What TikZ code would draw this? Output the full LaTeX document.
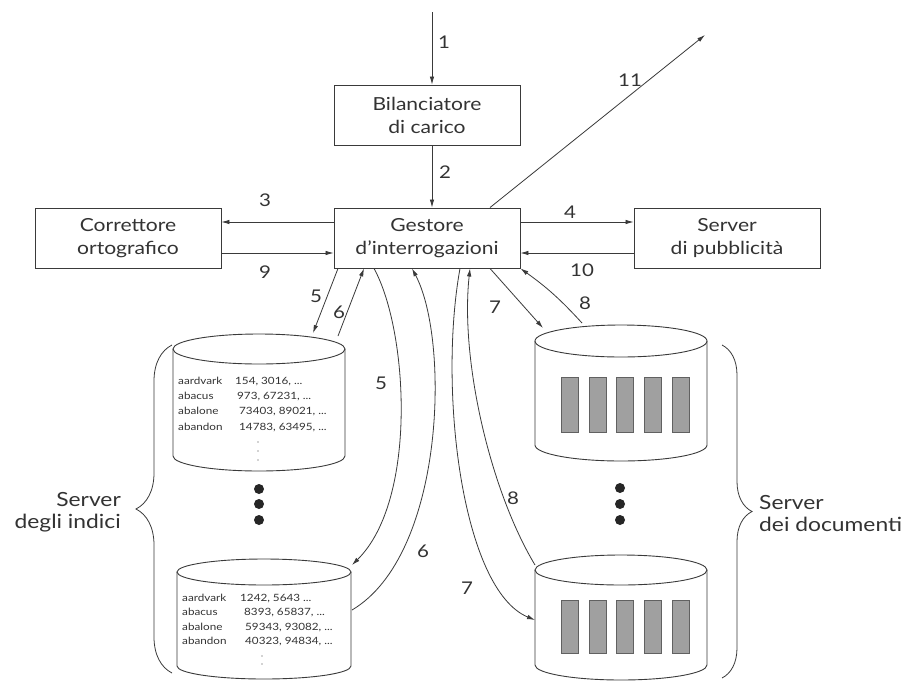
\documentclass[tikz,border=0pt]{standalone}
\usepackage{fontspec}
\setmainfont{Lato}[FakeStretch=1.17]
\usetikzlibrary{arrows.meta,decorations.pathreplacing}
\definecolor{ink}{HTML}{3A3A3A}
\definecolor{txt}{HTML}{333333}
\definecolor{doc}{HTML}{A0A0A0}
\newcommand{\cylpath}[5]{% cx, rx, ty, by, ry
  \fill[white] (#1-#2,#3) -- (#1-#2,#4) arc[start angle=180,end angle=0,x radius=#2,y radius=#5] -- (#1+#2,#3) arc[start angle=0,end angle=180,x radius=#2,y radius=#5] -- cycle;
  \draw[ink,line width=0.9pt] (#1-#2,#3) -- (#1-#2,#4) arc[start angle=180,end angle=0,x radius=#2,y radius=#5] -- (#1+#2,#3);
  \draw[ink,line width=0.9pt] (#1,#3) ellipse[x radius=#2,y radius=#5];
}
\tikzset{
  box/.style={draw=ink,line width=0.9pt,minimum width=186pt,minimum height=60pt,align=center,
    font=\fontsize{18}{23}\selectfont,text=txt,inner sep=0pt},
  arr/.style={draw=ink,line width=0.8pt,-{Latex[length=8pt,width=4.5pt]}},
  lbl/.style={font=\fontsize{17.5}{20}\selectfont,text=txt,inner sep=0pt},
  idx/.style={font=\fontsize{10}{12}\selectfont,text=txt,inner sep=0pt,anchor=base west},
  docbar/.style={fill=doc,draw=ink!80,line width=0.6pt},
  bigdot/.style={fill=black!85,draw=none},
  brc/.style={draw=ink,line width=0.8pt,decorate},
}
\begin{document}
\begin{tikzpicture}[x=1pt,y=-1pt]
\fill[white] (0,0) rectangle (903,681);
\useasboundingbox (0,0) rectangle (903,681);

% boxes
\node[box] (bil) at (427,115) {Bilanciatore\\di carico};
\node[box] (gest) at (427,238) {Gestore\\d’interrogazioni};
\node[box] (corr) at (128,238) {Correttore\\ortografico};
\node[box] (pub) at (727,238) {Server\\di pubblicità};

% top arrows
\coordinate (in) at (432,12);
\coordinate (out) at (705,35);
\draw[arr] (in) -- (in |- bil.north);
\draw[arr] (bil.south -| in) -- (gest.north -| in);
\draw[arr] ([xshift=63pt]gest.north) -- (out);
\node[lbl] (l1) at (444,42) {1};
\node[lbl] (l2) at (445,172) {2};
\node[lbl] (l11) at (630,80) {11};

% side arrows
\draw[arr] ([yshift=16pt]gest.west) -- ([yshift=16pt]corr.east);
\draw[arr] ([yshift=-15pt]corr.east) -- ([yshift=-15pt]gest.west);
\draw[arr] ([yshift=16pt]gest.east) -- ([yshift=16pt]pub.west);
\draw[arr] ([yshift=-15pt]pub.west) -- ([yshift=-15pt]gest.east);
\node[lbl] (l3) at (265,200) {3};
\node[lbl] (l9) at (265,272) {9};
\node[lbl] (l4) at (570,212) {4};
\node[lbl] (l10) at (582,270) {10};

% index cylinders
\cylpath{259}{86}{349}{456}{15}
\node[idx] (a1) at (178,384) {aardvark};
\node[idx] (b1) at (178,399) {abacus};
\node[idx] (c1) at (178,414) {abalone};
\node[idx] (d1) at (178,430) {abandon};
\node[idx] (a1n) at (235,384) {154, 3016, ...};
\node[idx] (b1n) at (237,399) {973, 67231, ...};
\node[idx] (c1n) at (239,414) {73403, 89021, ...};
\node[idx] (d1n) at (239,430) {14783, 63495, ...};
\foreach \yy in {442,451,460} \fill[black!35] (258,\yy) circle[radius=0.9];

\cylpath{264}{87}{572}{666}{13}
\node[idx] (a2) at (182,601) {aardvark};
\node[idx] (b2) at (182,615) {abacus};
\node[idx] (c2) at (182,630) {abalone};
\node[idx] (d2) at (182,644) {abandon};
\node[idx] (a2n) at (240,601) {1242, 5643 ...};
\node[idx] (b2n) at (244,615) {8393, 65837, ...};
\node[idx] (c2n) at (245,630) {59343, 93082, ...};
\node[idx] (d2n) at (245,644) {40323, 94834, ...};
\foreach \yy in {656,664} \fill[black!35] (262,\yy) circle[radius=0.9];

% document cylinders
\cylpath{621}{86}{341}{445}{16}
\foreach \k in {0,...,4} \draw[docbar] (561+27.8*\k,377) rectangle (578+27.8*\k,432);
\cylpath{621}{86}{570}{665}{15}
\foreach \k in {0,...,4} \draw[docbar] (561+27.8*\k,600) rectangle (578+27.8*\k,653);

% big dots
\foreach \yy in {489,504,520} \fill[bigdot] (259,\yy) circle[radius=5];
\foreach \yy in {488,504,520} \fill[bigdot] (620,\yy) circle[radius=5];

% braces
\draw[brc,decoration={brace,amplitude=36pt}] (172,673) -- (172,345);
\draw[brc,decoration={brace,amplitude=30pt}] (722,345) -- (722,678);
\node[lbl,anchor=east,align=right,font=\fontsize{19.5}{22}\selectfont] (si) at (121,512) {Server\\degli indici};
\node[lbl,anchor=west,align=left,font=\fontsize{19.5}{22}\selectfont] (sd) at (759,514) {Server\\dei documenti};

% connector end points
\coordinate (ic1a) at (313,333);
\coordinate (ic1b) at (338,336);
\coordinate (ic2a) at (352,565);
\coordinate (ic2b) at (352,610);
\coordinate (dc1a) at (543,328);
\coordinate (dc1b) at (582,323);
\coordinate (dc2a) at (535,620);
\coordinate (dc2b) at (535,565);

% short connectors
\draw[arr] ([xshift=-89pt]gest.south) -- (ic1a);
\draw[arr] (ic1b) -- ([xshift=-63pt]gest.south);
\draw[arr] ([xshift=63pt]gest.south) -- (dc1a);
\draw[arr] (dc1b) to[bend right=6] (gest.south east);
\node[lbl] (l5a) at (316,296) {5};
\node[lbl] (l6a) at (339,312) {6};
\node[lbl] (l7a) at (495,307) {7};
\node[lbl] (l8a) at (585,303) {8};

% long connectors
\draw[arr] ([xshift=-53pt]gest.south) .. controls (408,330) and (418,500) .. (ic2a);
\draw[arr] (ic2b) .. controls (445,555) and (450,340) .. ([xshift=-15pt]gest.south);
\draw[arr] ([xshift=33pt]gest.south) .. controls (438,390) and (462,590) .. (dc2a);
\draw[arr] (dc2b) .. controls (490,490) and (460,360) .. ([xshift=43pt]gest.south);
\node[lbl] (l5b) at (381,383) {5};
\node[lbl] (l6b) at (423,551) {6};
\node[lbl] (l7b) at (467,588) {7};
\node[lbl] (l8b) at (513,498) {8};
\end{tikzpicture}
\end{document}
